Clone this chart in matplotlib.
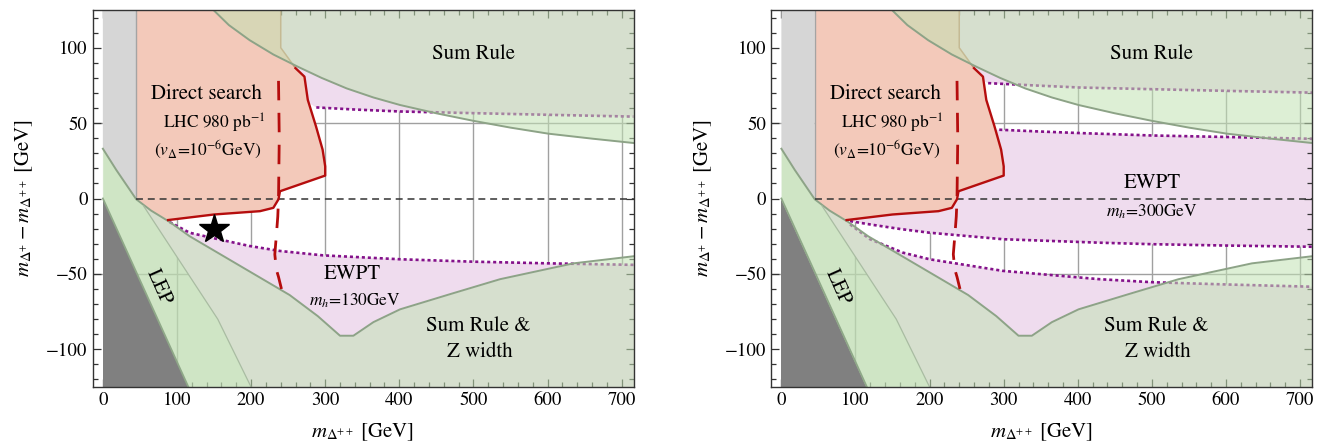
import matplotlib
matplotlib.use("Agg")
import matplotlib.pyplot as plt
from matplotlib.patches import Polygon
from matplotlib.ticker import MultipleLocator

plt.rcParams['font.family'] = ['STIXGeneral', 'DejaVu Serif']
plt.rcParams['mathtext.fontset'] = 'stix'
plt.rcParams['lines.scale_dashes'] = False

# ---------------- data (GeV) ----------------
XMIN, XMAX = -14, 716
YMIN, YMAX = -125, 125

# upper "Sum Rule" boundary
SR_UP_X = [145, 170, 198, 230, 263, 295, 329, 365, 401, 450, 500, 550, 601, 660, 716]
SR_UP_Y = [127, 115, 105, 95.5, 87.4, 80, 73, 67, 62, 56.5, 51.5, 47, 43, 39.7, 36.8]

# lower "Sum Rule & Z width" boundary
SR_LO_X = [0, 18, 45, 65, 90, 117, 162, 207, 252, 290, 320, 338, 365, 401, 468, 536, 635, 716]
SR_LO_Y = [33, 19, -0.5, -8, -15.5, -25, -38, -51, -64, -78, -91, -91, -82, -73.5, -63.5, -53.5, -43, -38.3]

# LEP bound line
LEP_X = [55, 155, 200]
LEP_Y = [-5, -80, -125]
GRAY_X = 45          # m_{Delta++} > 45 GeV band

# direct search (LHC 980 pb^-1) boundary
DS_EDGE_X = [240, 240, 260]
DS_EDGE_Y = [130, 100, 86.4]
DS_X = [260, 272, 276.5, 287.6, 296.5, 300, 300, 239, 237, 230, 212, 150, 88]
DS_Y = [86.4, 80.8, 65.4, 47.8, 32.4, 21.3, 15.2, 4.8, -0.5, -6.2, -8.4, -10.6, -14.3]
# dashed red line
RD_X = [237, 238, 237, 236, 234, 232, 234, 237, 241]
RD_Y = [78, 40, 0, -12, -25, -37, -47, -52, -60]

# EWPT, m_h = 130 GeV
EW130_UP_X = [288, 340, 401, 500, 601, 716]
EW130_UP_Y = [60.4, 59, 57.7, 56.6, 55.5, 54.3]
EW130_LO_X = [90, 117, 153, 198, 239, 297, 401, 500, 601, 716]
EW130_LO_Y = [-15.6, -22.7, -26.7, -31.5, -34.8, -37.7, -40.3, -41.9, -43, -44]

# EWPT, m_h = 300 GeV
EW300_A_X = [279, 340, 402, 499, 599, 716]
EW300_A_Y = [76.5, 75, 73.6, 72.5, 71.4, 70.2]
EW300_B_X = [294, 350, 402, 499, 599, 716]
EW300_B_Y = [45.6, 44.4, 43.4, 41.8, 40.8, 39.6]
EW300_C_X = [92.7, 119.6, 160, 200, 299, 429, 500, 600, 716]
EW300_C_Y = [-15, -17.2, -20.2, -22.7, -27, -29.3, -30.3, -31.2, -32]
EW300_D_X = [92.7, 119.6, 164, 200, 299, 429, 500, 600, 716]
EW300_D_Y = [-17.2, -27, -35.9, -40.3, -48, -53.5, -55.5, -57, -58.5]

STAR = (150, -20)

# ---------------- styles ----------------
PURPLE = '#efdcee'
SALMON = '#f3c9ba'
GREEN = '#c2e2b4'
GALPHA = 0.55
GEDGE = '#8da387'
DOTC = '#84118a'
RED = '#b50d0d'

fig = plt.figure(figsize=(13.26, 4.43), dpi=100)
ax1 = fig.add_axes([92.5/1326, 56/443, 541/1326, 377/443])
ax2 = fig.add_axes([771/1326, 56/443, 541/1326, 377/443])


def poly(ax, xs, ys, **kw):
    ax.add_patch(Polygon(list(zip(xs, ys)), closed=True, **kw))


def common(ax, panel):
    ax.set_xlim(XMIN, XMAX)
    ax.set_ylim(YMIN, YMAX)
    # grid
    for gx in range(100, 701, 100):
        ax.axvline(gx, color='#a0a0a0', lw=1.0, zorder=0.5)
    for gy in (-50, 50):
        ax.axhline(gy, color='#a0a0a0', lw=1.0, zorder=0.5)

    # EWPT excluded (purple)
    lep_rev_x = LEP_X[::-1]
    lep_rev_y = LEP_Y[::-1]
    if panel == 1:
        poly(ax, EW130_UP_X + [XMAX + 5, GRAY_X], EW130_UP_Y + [YMAX + 5, YMAX + 5],
             fc=PURPLE, ec='none', zorder=1)
        poly(ax, EW130_LO_X + [XMAX + 5] + lep_rev_x, EW130_LO_Y + [YMIN - 5] + lep_rev_y,
             fc=PURPLE, ec='none', zorder=1)
        dotted = [(EW130_UP_X, EW130_UP_Y), (EW130_LO_X, EW130_LO_Y)]
    else:
        poly(ax, EW300_A_X + [XMAX + 5, GRAY_X], EW300_A_Y + [YMAX + 5, YMAX + 5],
             fc=PURPLE, ec='none', zorder=1)
        poly(ax, EW300_B_X + EW300_C_X[::-1] + [GRAY_X, GRAY_X],
             EW300_B_Y + EW300_C_Y[::-1] + [0, EW300_B_Y[0]],
             fc=PURPLE, ec='none', zorder=1)
        poly(ax, EW300_D_X + [XMAX + 5] + lep_rev_x, EW300_D_Y + [YMIN - 5] + lep_rev_y,
             fc=PURPLE, ec='none', zorder=1)
        dotted = [(EW300_A_X, EW300_A_Y), (EW300_B_X, EW300_B_Y),
                  (EW300_C_X, EW300_C_Y), (EW300_D_X, EW300_D_Y)]

    # direct search region (salmon)
    sr_left = [(x, y) for x, y in zip(SR_LO_X, SR_LO_Y) if GRAY_X <= x < DS_X[-1]]
    ds_x = [GRAY_X] + DS_EDGE_X + DS_X[1:] + [p[0] for p in sr_left[::-1]]
    ds_y = [YMAX + 5] + DS_EDGE_Y + DS_Y[1:] + [p[1] for p in sr_left[::-1]]
    poly(ax, ds_x, ds_y, fc=SALMON, ec='none', zorder=2)
    ax.plot(DS_EDGE_X, DS_EDGE_Y, color='#c98a6e', lw=1.1, zorder=2.2)

    # dotted EWPT boundaries
    for xs, ys in dotted:
        ax.plot(xs, ys, color=DOTC, lw=1.9, ls=(0, (2.2, 2.1)), zorder=2.5)

    # grey band
    sr_g = [(x, y) for x, y in zip(SR_LO_X, SR_LO_Y) if x <= GRAY_X]
    gx = [0, GRAY_X] + [p[0] for p in sr_g[::-1]]
    gy = [YMAX + 5, YMAX + 5] + [p[1] for p in sr_g[::-1]]
    poly(ax, gx, gy, fc='#d6d6d6', ec='none', zorder=3)
    ax.plot([GRAY_X, GRAY_X], [sr_g[-1][1], YMAX + 5], color='#a4a4a4', lw=1.0, zorder=3.1)

    # green overlays
    ax.fill_between(SR_UP_X, SR_UP_Y, YMAX + 5, color=GREEN, alpha=GALPHA, lw=0, zorder=4)
    ax.fill_between(SR_LO_X, YMIN - 5, SR_LO_Y, color=GREEN, alpha=GALPHA, lw=0, zorder=4)
    lep_x = [p[0] for p in sr_g] + LEP_X + [-YMIN - 5, 0]
    lep_y = [p[1] for p in sr_g] + LEP_Y + [YMIN - 5, 0]
    poly(ax, lep_x, lep_y, fc='#bcd8b0', alpha=0.42, ec='none', zorder=4.05)
    ax.plot(SR_UP_X, SR_UP_Y, color=GEDGE, lw=1.4, zorder=4.2)
    ax.plot(SR_LO_X, SR_LO_Y, color=GEDGE, lw=1.4, zorder=4.2)
    ax.plot(LEP_X, LEP_Y, color='#a9bca2', lw=0.9, zorder=4.2)

    # LEP dark triangle (m_{Delta+} < 0)
    poly(ax, [0, 0, -YMIN - 5], [0, YMIN - 5, YMIN - 5], fc='#808080', ec='none', zorder=4.5)
    ax.plot([0, -YMIN - 5], [0, YMIN - 5], color='#8fa888', lw=1.3, zorder=4.6)

    # zero line
    ax.plot([GRAY_X, XMAX], [0, 0], color='#333333', lw=1.1, ls=(0, (5, 3.5)), zorder=5)

    # direct search lines
    ax.plot(DS_X, DS_Y, color=RED, lw=1.7, zorder=6)
    ax.plot(RD_X, RD_Y, color=RED, lw=2.0, ls=(0, (14, 9)), zorder=6)

    # labels
    ax.text(500, 96, 'Sum Rule', fontsize=15, ha='center', va='center', zorder=8)
    ax.text(140, 69, 'Direct search', fontsize=15, ha='center', va='center', zorder=8)
    ax.text(150, 50, r'LHC 980 pb$^{-1}$', fontsize=12.5, ha='center', va='center', zorder=8)
    ax.text(142, 32, r'($v_{\Delta}$=10$^{-6}$GeV)', fontsize=12.5, ha='center', va='center',
            zorder=8)
    ax.text(506, -84.5, 'Sum Rule &', fontsize=15, ha='center', va='center', zorder=8)
    ax.text(508, -102, 'Z width', fontsize=15, ha='center', va='center', zorder=8)
    ax.text(76, -59, 'LEP', fontsize=15, ha='center', va='center', rotation=-66, zorder=8)

    # axes cosmetics
    ax.xaxis.set_major_locator(MultipleLocator(100))
    ax.xaxis.set_minor_locator(MultipleLocator(20))
    ax.yaxis.set_major_locator(MultipleLocator(50))
    ax.yaxis.set_minor_locator(MultipleLocator(10))
    ax.tick_params(which='both', direction='in', top=True, right=True, color='#333333',
                   labelsize=13.5, width=0.9)
    ax.tick_params(which='major', length=6)
    ax.tick_params(which='minor', length=3.5)
    for s in ax.spines.values():
        s.set_color('#333333')
        s.set_linewidth(1.0)
        s.set_zorder(10)
    ax.set_xlabel(r'$m_{\Delta^{++}}$ [GeV]', fontsize=15, labelpad=9)
    ax.set_ylabel(r'$m_{\Delta^{+}}-m_{\Delta^{++}}$ [GeV]', fontsize=15, labelpad=8)


common(ax1, 1)
common(ax2, 2)

ax1.plot([STAR[0]], [STAR[1]], marker='*', color='black', ms=22, zorder=7)
ax1.text(336, -50, 'EWPT', fontsize=15, ha='center', va='center', zorder=8)
ax1.text(340, -68, r'$m_h$=130GeV', fontsize=12.5, ha='center', va='center', zorder=8)
ax2.text(500, 10, 'EWPT', fontsize=15, ha='center', va='center', zorder=8)
ax2.text(500, -8.5, r'$m_h$=300GeV', fontsize=12.5, ha='center', va='center', zorder=8)

fig.savefig('out.png', dpi=100)
